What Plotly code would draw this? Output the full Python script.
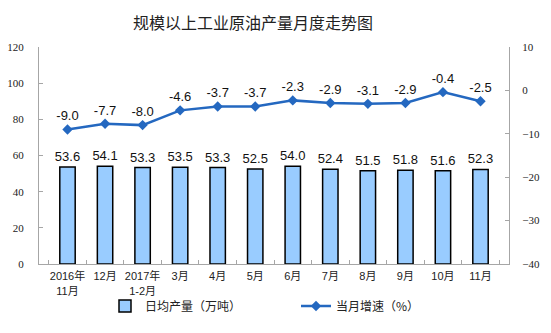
import plotly.graph_objects as go

# Monthly crude oil output of industrial enterprises above designated size
months = ["2016年<br>11月", "12月", "2017年<br>1-2月", "3月", "4月", "5月",
          "6月", "7月", "8月", "9月", "10月", "11月"]
daily_output = [53.6, 54.1, 53.3, 53.5, 53.3, 52.5, 54.0, 52.4, 51.5, 51.8, 51.6, 52.3]
growth_rate = [-9.0, -7.7, -8.0, -4.6, -3.7, -3.7, -2.3, -2.9, -3.1, -2.9, -0.4, -2.5]

axis_gray = "#A6A6A6"
num_font = dict(family="Liberation Serif, Times New Roman, serif", size=11, color="#222")
cjk_font = "Noto Sans CJK SC, sans-serif"
month_font = dict(family="Liberation Sans, Noto Sans CJK SC, sans-serif", size=11, color="#222")
label_font = dict(family="Arial, Liberation Sans, sans-serif", size=13, color="#111")
legend_font = dict(family=cjk_font, size=12, color="#222")

fig = go.Figure()

fig.add_trace(go.Bar(
    x=months, y=daily_output, name="日均产量（万吨）",
    marker=dict(color="#99CCFF", line=dict(color="#000000", width=1.5)),
    width=0.41,
    texttemplate="%{y:.1f}", textposition="outside", textfont=label_font,
    constraintext="none", cliponaxis=False, legend="legend",
))

fig.add_trace(go.Scatter(
    x=months, y=growth_rate, name="当月增速（%）", yaxis="y2",
    mode="lines+markers+text",
    line=dict(color="#2468C0", width=2.5),
    marker=dict(symbol="diamond", size=8, color="#2468C0"),
    texttemplate="%{y:.1f}", textposition="top center", textfont=label_font,
    cliponaxis=False, legend="legend2",
))

fig.update_layout(
    width=551, height=333,
    margin=dict(l=39, r=42, t=47, b=69, autoexpand=False),
    paper_bgcolor="white", plot_bgcolor="white",
    showlegend=True,
    legend=dict(orientation="h", xref="container", yref="container",
                x=105 / 551, y=27 / 333, xanchor="left", yanchor="middle",
                font=legend_font, bgcolor="rgba(0,0,0,0)"),
    legend2=dict(orientation="h", xref="container", yref="container",
                 x=296 / 551, y=27 / 333, xanchor="left", yanchor="middle",
                 font=legend_font, bgcolor="rgba(0,0,0,0)"),
    title=dict(text="规模以上工业原油产量月度走势图", x=0.459, xanchor="center",
               y=1 - 23 / 333, yanchor="middle",
               font=dict(family=cjk_font, size=16, color="#222")),
    bargap=0.59,
    xaxis=dict(showline=True, linecolor=axis_gray, linewidth=1,
               ticks="inside", tickson="boundaries", ticklen=4, tickcolor=axis_gray,
               tickangle=0, automargin=False, ticklabelstandoff=2,
               tickfont=month_font, showgrid=False, zeroline=False),
    yaxis=dict(range=[0, 120], dtick=20, showline=True, linecolor=axis_gray, linewidth=1,
               ticks="inside", ticklen=4, tickcolor=axis_gray, automargin=False,
               tickfont=num_font, showgrid=False, zeroline=False, ticklabelstandoff=12),
    yaxis2=dict(range=[-40, 10], dtick=10, overlaying="y", side="right",
                showline=True, linecolor=axis_gray, linewidth=1,
                ticks="inside", ticklen=4, tickcolor=axis_gray, automargin=False,
                tickfont=num_font, showgrid=False, zeroline=False, ticklabelstandoff=10),
)

fig.write_html("out.html")
